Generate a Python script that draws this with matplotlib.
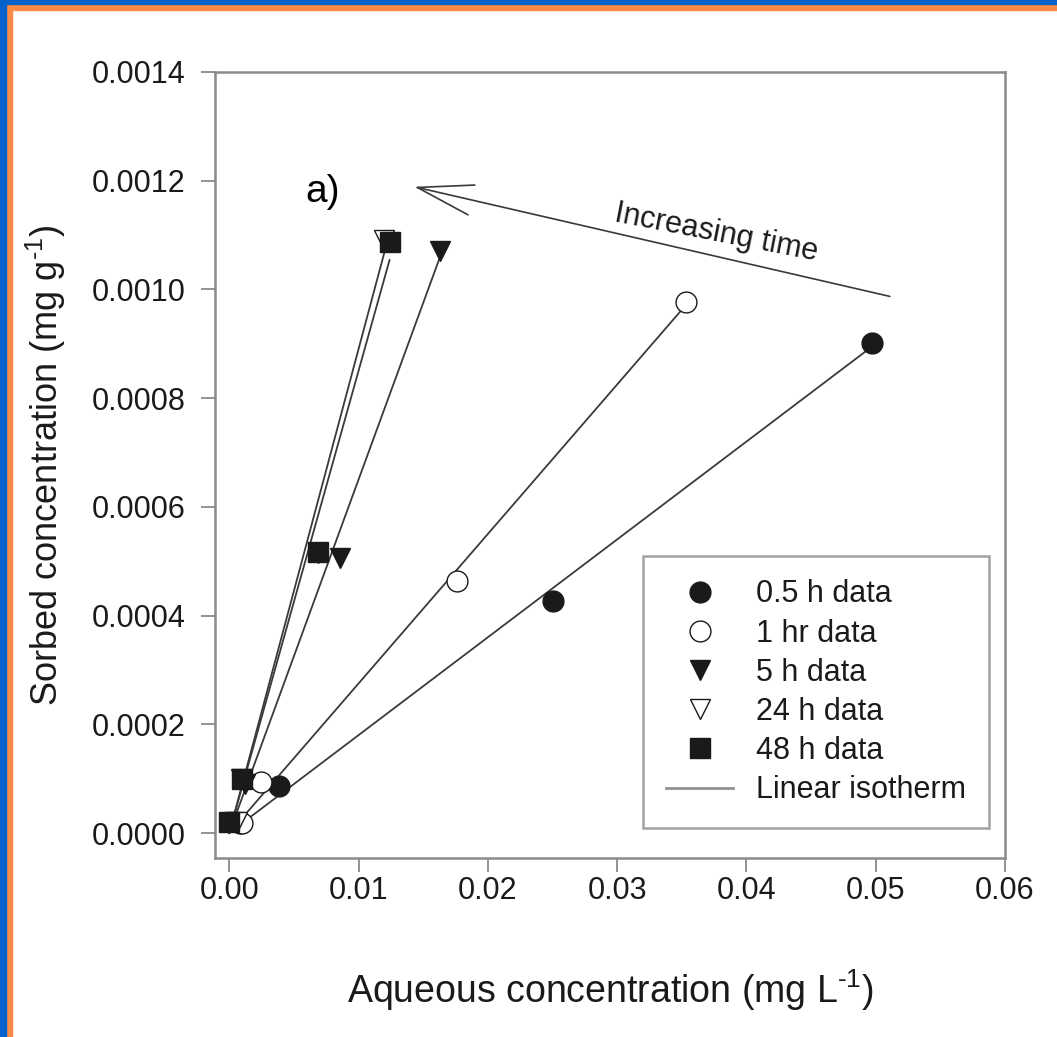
import matplotlib
matplotlib.use('Agg')
import matplotlib.pyplot as plt
from matplotlib.patches import Rectangle
from matplotlib.ticker import FormatStrFormatter, MultipleLocator

plt.rcParams['font.family'] = ['Liberation Sans', 'DejaVu Sans']
plt.rcParams['mathtext.fontset'] = 'custom'
plt.rcParams['mathtext.rm'] = 'Liberation Sans'
plt.rcParams['mathtext.it'] = 'Liberation Sans:italic'
plt.rcParams['mathtext.default'] = 'regular'

# sorption data (x: mg/L, y: mg/g)
labels = ['0.5 h data', '1 hr data', '5 h data', '24 h data', '48 h data']
markers = ['o', 'o', 'v', 'v', 's']
faces = ['#1a1a1a', 'white', '#1a1a1a', 'white', '#1a1a1a']

x_05h = [0.0008, 0.00387, 0.02505, 0.0497]
y_05h = [0.000018, 0.0000865, 0.000427, 0.000901]
x_1h = [0.0010, 0.00245, 0.01763, 0.0353]
y_1h = [0.0000184, 0.000093, 0.000464, 0.000977]
x_5h = [0.0004, 0.0012, 0.0086, 0.0163]
y_5h = [0.00002, 0.00009, 0.000506, 0.00107]
x_24h = [0.0006, 0.0009, 0.0069, 0.0120]
y_24h = [0.00002, 0.0001, 0.000516, 0.00109]
x_48h = [0.0000, 0.0010, 0.00688, 0.01245]
y_48h = [0.00002, 0.0000993, 0.000517, 0.001087]

# linear isotherm slopes (Kd) and the x range each line covers
kd = [0.0180, 0.0275, 0.0650, 0.0890, 0.0850]
line_xmax = [0.0497, 0.0353, 0.0163, 0.0120, 0.0124]

xs = [x_05h, x_1h, x_5h, x_24h, x_48h]
ys = [y_05h, y_1h, y_5h, y_24h, y_48h]

fig = plt.figure(figsize=(10.57, 10.37), dpi=100)
ax = fig.add_axes([0.2034, 0.1726, 0.7474, 0.758])

line_col = '#3a3a3a'
for k, xm in zip(kd, line_xmax):
    ax.plot([0, xm], [0, k * xm], color=line_col, lw=1.3, zorder=2)

for x, y, m, fc, lab in zip(xs, ys, markers, faces, labels):
    ax.plot(x, y, linestyle='none', marker=m, ms=15, mfc=fc, mec='#1a1a1a',
            mew=1.0, label=lab, zorder=3)
ax.plot([], [], color='#909090', lw=2, label='Linear isotherm')

ax.set_xlim(-0.0011, 0.06)
ax.set_ylim(-0.000046, 0.0014)
ax.xaxis.set_major_locator(MultipleLocator(0.01))
ax.yaxis.set_major_locator(MultipleLocator(0.0002))
ax.xaxis.set_major_formatter(FormatStrFormatter('%.2f'))
ax.yaxis.set_major_formatter(FormatStrFormatter('%.4f'))
ax.tick_params(direction='out', length=10, width=1.2, color='#808080',
               labelsize=22, labelcolor='#1a1a1a')
ax.tick_params(axis='x', pad=3)
ax.tick_params(axis='y', pad=11)
for s in ax.spines.values():
    s.set_color('#8a8a8a')
    s.set_linewidth(1.8)

ax.set_xlabel('Aqueous concentration (mg L$^{\\text{-}1}$)', fontsize=27,
              labelpad=44, color='#1a1a1a')
ax.set_ylabel('Sorbed concentration (mg g$^{\\text{-}1}$)', fontsize=26,
              labelpad=17, color='#1a1a1a')

ax.text(0.0072, 0.00118, 'a)', fontsize=28, ha='center', va='center')
ax.annotate('', xy=(0.0141, 0.00119), xytext=(0.0513, 0.000986),
            arrowprops=dict(arrowstyle='->,head_length=4.0,head_width=1.1',
                            color='#3a3a3a', lw=1.2))
ax.text(0.0377, 0.001103, 'Increasing time', fontsize=22, rotation=-11,
        ha='center', va='center', color='#1a1a1a', rotation_mode='anchor')

leg = ax.legend(loc='lower right', bbox_to_anchor=(0.980, 0.038),
                borderaxespad=0, fontsize=22, frameon=True, fancybox=False,
                handlelength=2.2, handletextpad=0.75, labelspacing=0.3,
                borderpad=0.75, numpoints=1)
leg.get_frame().set_edgecolor('#8a8a8a')
leg.get_frame().set_linewidth(1.8)
for t in leg.get_texts():
    t.set_color('#1a1a1a')

# coloured frame on the top and left edges
H = 1037.0
W = 1057.0
fig.add_artist(Rectangle((0, 1 - 10 / H), 1, 10 / H, transform=fig.transFigure,
                         color='#fb8a46', zorder=10))
fig.add_artist(Rectangle((0, 0), 12 / W, 1, transform=fig.transFigure,
                         color='#fb8a46', zorder=10))
fig.add_artist(Rectangle((0, 1 - 4 / H), 1, 4 / H, transform=fig.transFigure,
                         color='#0362cb', zorder=11))
fig.add_artist(Rectangle((0, 0), 6 / W, 1, transform=fig.transFigure,
                         color='#0362cb', zorder=11))

fig.savefig('out.png', dpi=100)
